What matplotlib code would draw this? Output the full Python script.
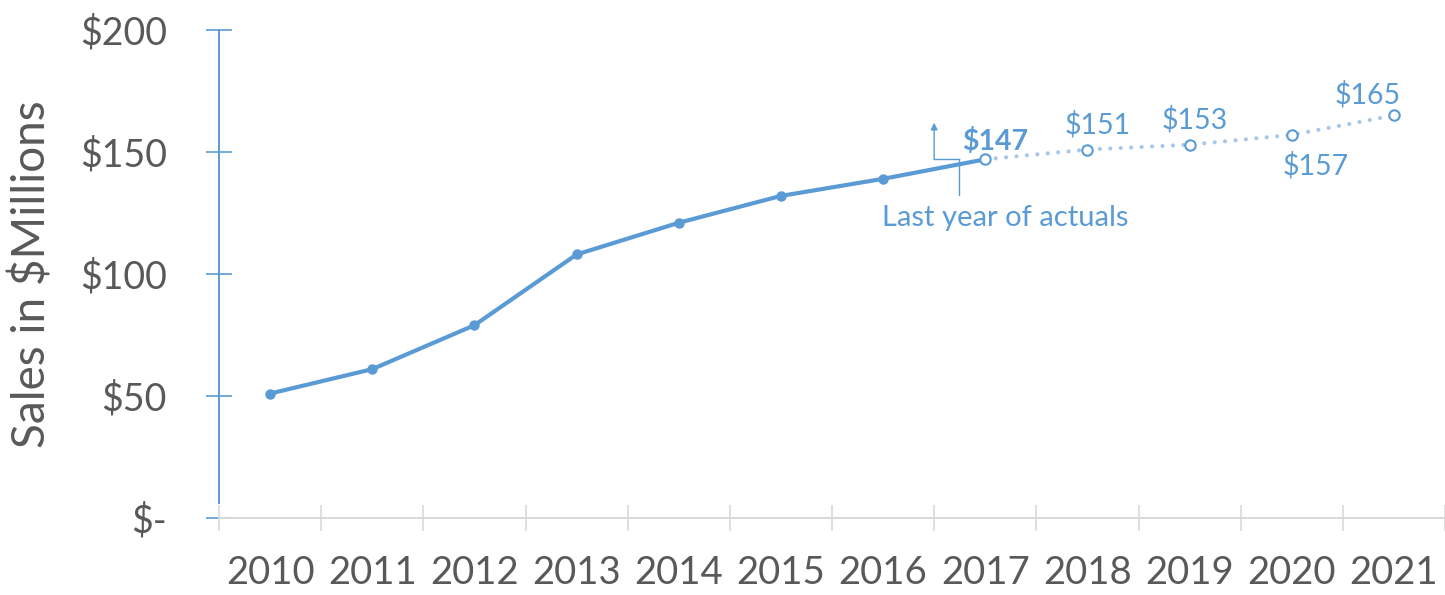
import matplotlib
matplotlib.use("Agg")
import matplotlib.pyplot as plt

years = ["2010", "2011", "2012", "2013", "2014", "2015", "2016", "2017",
         "2018", "2019", "2020", "2021"]
actual_values = [51, 61, 79, 108, 121, 132, 139, 147]
forecast_values = [147, 151, 153, 157, 165]
forecast_labels = ["$147", "$151", "$153", "$157", "$165"]
ytick_values = [0, 50, 100, 150, 200]
ytick_labels = ["$-", "$50", "$100", "$150", "$200"]

BLUE = "#5B9BD5"
LIGHT = "#A9C8E8"
GRAY_TXT = "#595959"
GRID = "#D9D9D9"

plt.rcParams["font.family"] = ["Lato", "DejaVu Sans"]

W, H = 1445, 595
fig = plt.figure(figsize=(W / 100, H / 100), dpi=100)
left, right, bottom, top = 219, 1445, 518, 30
ax = fig.add_axes([left / W, (H - bottom) / H, (right - left) / W, (bottom - top) / H])

n_act = len(actual_values)
x_act = list(range(n_act))
x_fc = list(range(n_act - 1, n_act - 1 + len(forecast_values)))

ax.plot(x_fc, forecast_values, color=LIGHT, lw=3, linestyle=(0, (0.01, 2.5)),
        dash_capstyle="round", zorder=2)
ax.plot(x_act, actual_values, color=BLUE, lw=3, marker="o", ms=6.5,
        markerfacecolor=BLUE, markeredgecolor=BLUE, zorder=3)
ax.plot(x_fc, forecast_values, linestyle="none", marker="o", ms=7.5,
        markerfacecolor="white", markeredgecolor=BLUE, markeredgewidth=1.5, zorder=4)

# data labels (offsets in points)
offsets = [(7.5, 3, True), (7.5, 8, False), (4, 8, False), (17, -12, False), (-19, 5, False)]
for xi, v, lab, (dx, dy, bold) in zip(x_fc, forecast_values, forecast_labels, offsets):
    ax.annotate(lab, (xi, v), xytext=(dx, dy), textcoords="offset points",
                ha="center", va="bottom" if dy > 0 else "top", fontsize=20.5,
                color=BLUE, fontweight="bold" if bold else "normal")

# "Last year of actuals" annotation
ax.plot([6.5, 6.74], [147, 147], color=BLUE, lw=1, zorder=1)
ax.plot([6.74, 6.74], [147, 132.5], color=BLUE, lw=1, zorder=1)
ax.annotate("", xy=(6.5, 162), xytext=(6.5, 147),
            arrowprops=dict(arrowstyle="-|>", color=BLUE, lw=1, mutation_scale=10,
                            shrinkA=0, shrinkB=0))
ax.text(7.2, 123, "Last year of actuals", color=BLUE, fontsize=21, ha="center", va="center")

ax.set_xlim(-0.5, 11.42)
ax.set_ylim(0, 200)

ax.set_xticks([i + 0.5 for i in range(-1, 12)], minor=False)
ax.set_xticklabels([])
ax.set_xticks(range(len(years)), minor=True)
ax.set_xticklabels(years, minor=True)
ax.tick_params(axis="x", which="major", direction="inout", length=19, width=1.2, color=GRID)
ax.tick_params(axis="x", which="minor", length=0, pad=27, labelsize=27.5, labelcolor=GRAY_TXT)

ax.set_yticks(ytick_values)
ax.set_yticklabels(ytick_labels)
ax.tick_params(axis="y", direction="inout", length=19, width=1.2, color=BLUE,
               labelsize=27, labelcolor=GRAY_TXT, pad=28)

for s in ["top", "right"]:
    ax.spines[s].set_visible(False)
ax.spines["left"].set_color(BLUE)
ax.spines["left"].set_linewidth(1.4)
ax.spines["left"].set_bounds(6, 200)
ax.spines["bottom"].set_color(GRID)
ax.spines["bottom"].set_linewidth(1.4)

ax.set_ylabel("Sales in $Millions", fontsize=33, color=GRAY_TXT)
ax.yaxis.set_label_coords(-0.135, 0.5)

fig.savefig("out.png", dpi=100)
